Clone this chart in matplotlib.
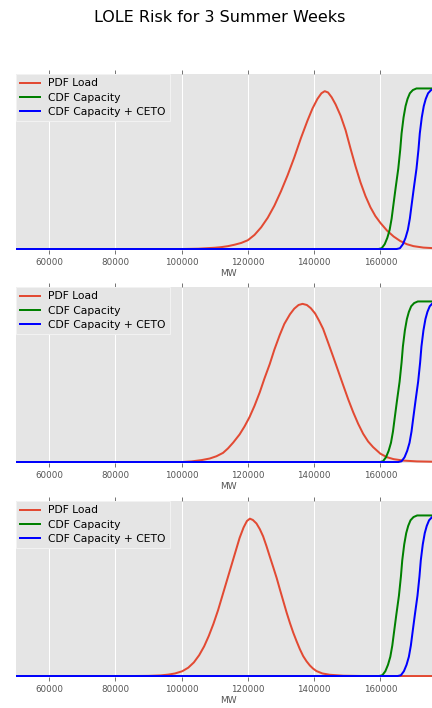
import numpy as np
import matplotlib
matplotlib.use('Agg')
import matplotlib.pyplot as plt

# values (MW, normalised height)
# week 1
wk1_load_mw = [50000, 100000, 105000, 110000, 112000, 114000, 116000, 118000, 120000, 122000,
               124000, 126000, 128000, 130000, 132000, 134000, 136000, 138000, 139500, 141000,
               142200, 143200, 144200, 145300, 146500, 148000, 149500, 151000, 152500, 154000,
               155500, 157000, 158500, 160000, 162000, 164000, 166000, 168000, 170000, 173000, 178000]
wk1_load_pdf = [0, 0, 0.002, 0.008, 0.012, 0.018, 0.027, 0.038, 0.055, 0.088,
                0.135, 0.195, 0.27, 0.36, 0.46, 0.57, 0.69, 0.8, 0.875, 0.935,
                0.97, 0.983, 0.975, 0.945, 0.9, 0.83, 0.74, 0.625, 0.515, 0.415,
                0.33, 0.26, 0.205, 0.163, 0.115, 0.078, 0.05, 0.03, 0.018, 0.009, 0.003]
wk1_cap_mw = [50000, 159400, 160400, 161300, 162100, 162800, 163400, 163900, 164600, 165400,
              166000, 166400, 167000, 167600, 168200, 168900, 169800, 170900, 178000]
wk1_ceto_mw = [50000, 164900, 165900, 166800, 167600, 168300, 168900, 169400, 170100, 170900,
               171500, 171900, 172500, 173100, 173700, 174400, 175300, 176400, 178000]

# week 2
wk2_load_mw = [50000, 100000, 103000, 106000, 108500, 110500, 112500, 114000, 115600, 117500,
               119000, 120500, 122000, 123600, 125000, 126600, 128000, 129600, 131000, 132700,
               134000, 135300, 136500, 137800, 139000, 140300, 141500, 142700, 144200, 145800,
               147300, 148800, 150300, 151800, 153300, 154800, 156300, 157800, 160000, 162000,
               164000, 167000, 171000, 178000]
wk2_load_pdf = [0, 0, 0.004, 0.012, 0.022, 0.036, 0.057, 0.085, 0.122, 0.172,
                0.222, 0.28, 0.35, 0.435, 0.52, 0.61, 0.7, 0.79, 0.86, 0.92,
                0.955, 0.978, 0.985, 0.978, 0.958, 0.925, 0.88, 0.83, 0.745, 0.653,
                0.565, 0.477, 0.39, 0.31, 0.238, 0.176, 0.128, 0.093, 0.052, 0.03,
                0.018, 0.009, 0.004, 0.001]
wk2_cap_mw = [50000, 159800, 160800, 161700, 162500, 163200, 163800, 164300, 165000, 165800,
              166400, 166800, 167400, 168000, 168600, 169300, 170200, 171300, 178000]
wk2_ceto_mw = [50000, 165400, 166400, 167300, 168100, 168800, 169400, 169900, 170600, 171400,
               172000, 172400, 173000, 173600, 174200, 174900, 175800, 176900, 178000]

# week 3
wk3_load_mw = [50000, 85000, 90000, 93700, 96000, 98000, 100200, 102000, 103700, 105300,
               106800, 108200, 109600, 111000, 112300, 113600, 114900, 116200, 117500, 118700,
               119700, 120600, 121500, 122600, 123600, 124600, 125600, 126600, 127700, 128700,
               129700, 130700, 131700, 132700, 133700, 134700, 135700, 136700, 137700, 138700,
               139700, 140700, 142500, 144700, 148800, 155000, 178000]
wk3_load_pdf = [0, 0, 0.001, 0.004, 0.009, 0.016, 0.03, 0.052, 0.085, 0.13,
                0.185, 0.25, 0.325, 0.41, 0.5, 0.59, 0.68, 0.77, 0.86, 0.925,
                0.965, 0.98, 0.972, 0.95, 0.915, 0.87, 0.81, 0.745, 0.675, 0.61,
                0.537, 0.466, 0.395, 0.33, 0.27, 0.217, 0.167, 0.124, 0.092, 0.066,
                0.046, 0.031, 0.016, 0.008, 0.002, 0, 0]
wk3_cap_mw = [50000, 159600, 160600, 161500, 162300, 163000, 163600, 164100, 164800, 165600,
              166200, 166600, 167200, 167800, 168400, 169100, 170000, 171100, 178000]
wk3_ceto_mw = [50000, 165200, 166200, 167100, 167900, 168600, 169200, 169700, 170400, 171200,
               171800, 172200, 172800, 173400, 174000, 174700, 175600, 176700, 178000]

# shared cdf heights for the capacity curves
cdf_vals = [0, 0, 0.005, 0.03, 0.07, 0.12, 0.19, 0.27, 0.38, 0.5,
            0.62, 0.72, 0.82, 0.89, 0.935, 0.97, 0.99, 1, 1]

x_ticks = [60000, 80000, 100000, 120000, 140000, 160000]

weeks = [
    (wk1_load_mw, wk1_load_pdf, wk1_cap_mw, wk1_ceto_mw),
    (wk2_load_mw, wk2_load_pdf, wk2_cap_mw, wk2_ceto_mw),
    (wk3_load_mw, wk3_load_pdf, wk3_cap_mw, wk3_ceto_mw),
]

W, H = 432, 708
fig = plt.figure(figsize=(W / 72, H / 72), dpi=72)
fig.text(220 / W, 1 - 17 / H, 'LOLE Risk for 3 Summer Weeks', fontsize=16,
         ha='center', va='center', color='black')

tops = [74, 287, 501]
for top, (lmw, lpdf, cmw, emw) in zip(tops, weeks):
    ax = fig.add_axes([16 / W, 1 - (top + 176) / H, 424 / W, 176 / H])
    ax.set_facecolor('#E5E5E5')
    for s in ax.spines.values():
        s.set_visible(False)
    ax.plot(lmw, lpdf, color='#E24A33', lw=2, label='PDF Load')
    ax.plot(cmw, cdf_vals, color='g', lw=2, label='CDF Capacity')
    ax.plot(emw, cdf_vals, color='b', lw=2, label='CDF Capacity + CETO')
    ax.set_yticks([])
    ax.set_xticks(x_ticks)
    ax.set_xlim(50000, 178000)
    ax.set_ylim(-0.006, 1.09)
    ax.tick_params(axis='x', direction='out', length=4, top=True, bottom=True,
                   labelsize=8.8, colors='#555555', pad=4)
    ax.grid(True, axis='x', color='white', lw=1)
    ax.set_axisbelow(True)
    ax.set_xlabel('MW', fontsize=9, color='#555555', labelpad=2)
    leg = ax.legend(loc='upper left', borderaxespad=0, fontsize=10.8, fancybox=False,
                    framealpha=1, handlelength=1.8, labelspacing=0.4)
    leg.get_frame().set_facecolor('#E5E5E5')
    leg.get_frame().set_edgecolor('#F2F2F2')

fig.savefig('out.png', dpi=72)
